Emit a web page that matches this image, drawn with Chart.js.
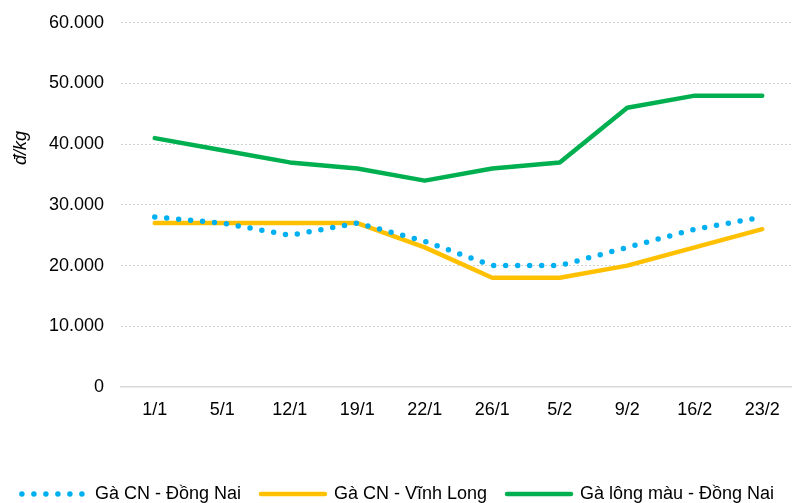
<!DOCTYPE html>
<html>
<head>
<meta charset="utf-8">
<script src="https://cdn.jsdelivr.net/npm/chart.js@4/dist/chart.umd.min.js"></script>
<style>
  html, body { margin: 0; padding: 0; background: #fff; overflow: hidden; }
  #wrap { width: 792px; height: 503px; overflow: hidden; position: relative; }
  #c { position: absolute; left: 0; top: -5px; }
</style>
</head>
<body>
<div id="wrap"><canvas id="c" width="796" height="518"></canvas></div>
<script>
const categories = ['1/1', '5/1', '12/1', '19/1', '22/1', '26/1', '5/2', '9/2', '16/2', '23/2'];
const seriesNames = ['Gà CN - Đồng Nai', 'Gà CN - Vĩnh Long', 'Gà lông màu - Đồng Nai'];
const dongNaiCN = [28000, 27000, 25000, 27000, 24000, 20000, 20000, 23000, 26000, 28000];
const vinhLongCN = [27000, 27000, 27000, 27000, 23000, 18000, 18000, 20000, 23000, 26000];
const longMauDongNai = [41000, 39000, 37000, 36000, 34000, 36000, 37000, 46000, 48000, 48000];
const yTicks = [0, 10000, 20000, 30000, 40000, 50000, 60000];
const yTitle = 'đ/kg';

const FONT = 'Liberation Sans, Arial, sans-serif';
const fmt = v => String(v).replace(/\B(?=(\d{3})+(?!\d))/g, '.');

const yTitlePlugin = {
  id: 'yTitle',
  afterDraw(chart) {
    const ctx = chart.ctx;
    ctx.save();
    ctx.translate(21, 153);
    ctx.rotate(-Math.PI / 2);
    ctx.font = 'italic 18px ' + FONT;
    ctx.fillStyle = '#000';
    ctx.textAlign = 'center';
    ctx.textBaseline = 'middle';
    ctx.fillText(yTitle, 0, 0);
    ctx.restore();
  }
};

new Chart(document.getElementById('c'), {
  type: 'line',
  data: {
    labels: categories,
    datasets: [
      { label: seriesNames[0], data: dongNaiCN, borderColor: '#00B0F0', backgroundColor: '#00B0F0',
        borderWidth: 5.5, borderDash: [0, 12], borderCapStyle: 'round', borderJoinStyle: 'round' },
      { label: seriesNames[1], data: vinhLongCN, borderColor: '#FFC000', backgroundColor: '#FFC000',
        borderWidth: 4.5, borderCapStyle: 'round', borderJoinStyle: 'round' },
      { label: seriesNames[2], data: longMauDongNai, borderColor: '#00B050', backgroundColor: '#00B050',
        borderWidth: 4.5, borderCapStyle: 'round', borderJoinStyle: 'round' }
    ]
  },
  options: {
    responsive: false,
    animation: false,
    layout: { padding: { top: 17, left: 0, right: 0, bottom: 0 } },
    elements: { point: { radius: 0, hoverRadius: 0 }, line: { tension: 0 } },
    plugins: {
      tooltip: { enabled: false },
      legend: {
        position: 'bottom',
        labels: {
          font: { family: FONT, size: 18 },
          color: '#000',
          usePointStyle: true,
          pointStyleWidth: 64,
          boxHeight: 18,
          padding: 20,
          generateLabels(chart) {
            return chart.data.datasets.map((ds, i) => ({
              text: ds.label,
              fillStyle: ds.borderColor,
              strokeStyle: ds.borderColor,
              lineWidth: ds.borderWidth,
              lineDash: ds.borderDash || [],
              lineCap: 'round',
              pointStyle: 'line',
              hidden: false,
              datasetIndex: i,
              fontColor: '#000'
            }));
          }
        }
      }
    },
    scales: {
      x: {
        offset: true,
        grid: { display: false, drawTicks: false },
        border: { display: true, color: '#d9d9d9', width: 1.5 },
        ticks: { font: { family: FONT, size: 18 }, color: '#000', padding: 12, maxRotation: 0 },
        afterFit(s) { s.height = 78; }
      },
      y: {
        min: 0, max: 60000,
        afterBuildTicks(s) { s.ticks = yTicks.map(v => ({ value: v })); },
        grid: {
          color: ctx => ctx.tick && ctx.tick.value === 0 ? 'rgba(0,0,0,0)' : '#d0d0d0',
          lineWidth: 1, drawTicks: false
        },
        border: { display: false, dash: [2, 2] },
        ticks: { font: { family: FONT, size: 18 }, color: '#000', padding: 17, callback: v => fmt(v) },
        afterFit(s) { s.width = 121; }
      }
    }
  },
  plugins: [yTitlePlugin]
});
</script>
</body>
</html>
